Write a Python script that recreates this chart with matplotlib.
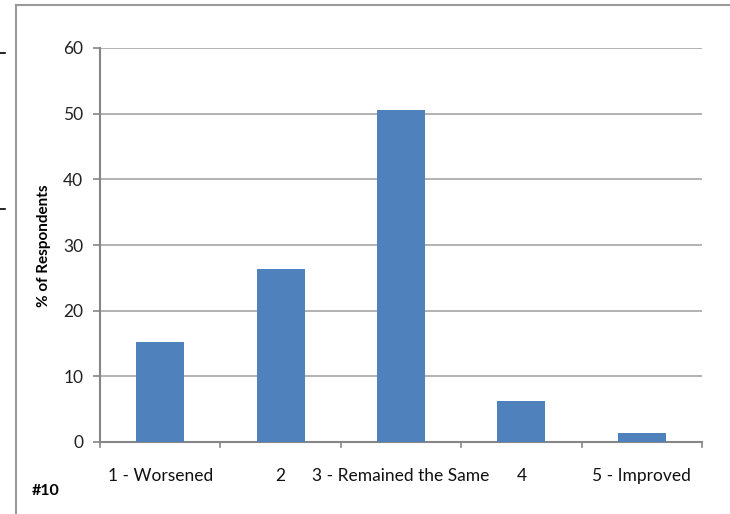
import matplotlib.pyplot as plt
from matplotlib.lines import Line2D
import numpy as np

categories = ['1 - Worsened', '2', '3 - Remained the Same', '4', '5 - Improved']
percents = [15.2, 26.3, 50.6, 6.2, 1.4]
yticks = [0, 10, 20, 30, 40, 50, 60]

plt.rcParams['font.family'] = ['Lato', 'DejaVu Sans']

fig = plt.figure(figsize=(7.3, 5.14), dpi=100)
W, H = 730, 514

# axes box in pixels: left 100, right 702, top 48, bottom 442
ax = fig.add_axes([100 / W, 1 - 442 / H, 602 / W, 394 / H])

x = np.arange(len(categories))
ax.bar(x, percents, width=0.4, color='#4F81BD', zorder=3)

ax.set_xlim(-0.5, len(categories) - 0.5)
ax.set_ylim(0, 60)
ax.set_yticks(yticks)
ax.set_yticklabels([str(v) for v in yticks], fontsize=12.5, color='#222222')
ax.yaxis.grid(True, color='#A6A6A6', linewidth=1.2, zorder=0)

# category labels, ticks at the boundaries
ax.set_xticks(x)
ax.set_xticklabels(categories, fontsize=12.5, color='#111111')
ax.tick_params(axis='x', length=0, pad=19)
for b in np.arange(-0.5, len(categories), 1.0):
    ax.plot([b, b], [0, -0.8], color='#868686', lw=1.2, clip_on=False, zorder=4)
ax.tick_params(axis='y', length=5, color='#868686', width=1.2, pad=7)

for side in ['top', 'right']:
    ax.spines[side].set_visible(False)
for side in ['left', 'bottom']:
    ax.spines[side].set_color('#868686')
    ax.spines[side].set_linewidth(1.5)

fig.text(44 / W, 1 - 246 / H, '% of Respondents', rotation=90, fontsize=11,
         fontweight='bold', ha='center', va='center')
fig.text(32 / W, 1 - 491 / H, '#10', fontsize=11.5, fontweight='bold',
         ha='left', va='center')

# outer frame (cut off at right and bottom)
fig.add_artist(Line2D([16 / W, 16 / W], [0, 1 - 5 / H], transform=fig.transFigure,
                      color='#9A9A9A', lw=1.5))
fig.add_artist(Line2D([16 / W, 1], [1 - 5 / H, 1 - 5 / H], transform=fig.transFigure,
                      color='#9A9A9A', lw=1.5))
# little marks at the left edge
for yy in [53, 209]:
    fig.add_artist(Line2D([0, 5 / W], [1 - yy / H, 1 - yy / H], transform=fig.transFigure,
                          color='black', lw=1.2))

fig.savefig('out.png', dpi=100)
